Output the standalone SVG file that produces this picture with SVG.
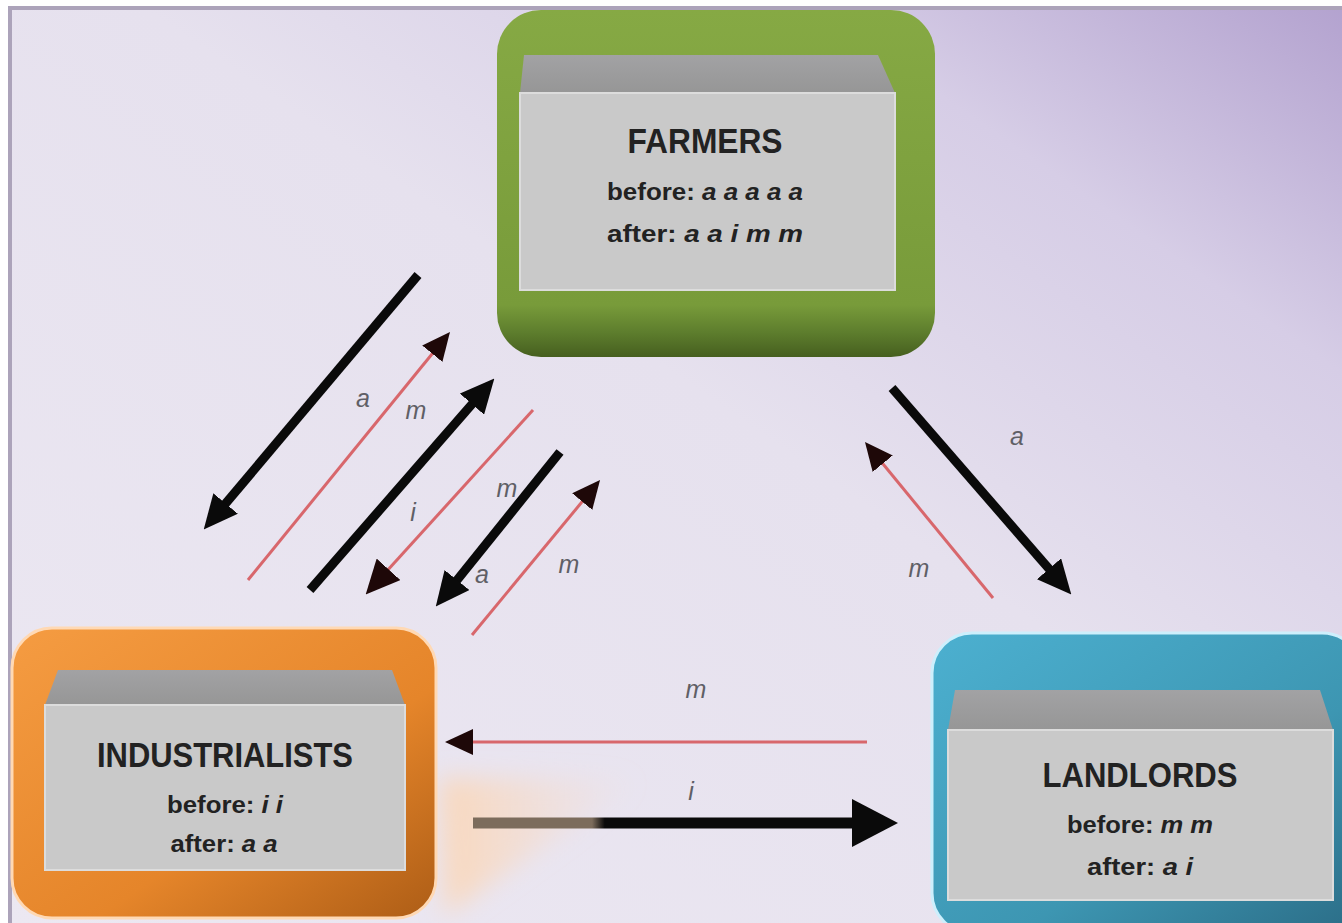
<svg xmlns="http://www.w3.org/2000/svg" width="1342" height="923" viewBox="0 0 1342 923">
<defs>
  <linearGradient id="bg" x1="0" y1="1" x2="1" y2="0">
    <stop offset="0" stop-color="#ece8f2"/>
    <stop offset="0.55" stop-color="#e6e1ee"/>
    <stop offset="0.8" stop-color="#d6cde6"/>
    <stop offset="1" stop-color="#b3a2cf"/>
  </linearGradient>
  <linearGradient id="glow" x1="0" y1="0" x2="1" y2="0">
    <stop offset="0" stop-color="#fbd6b6" stop-opacity="0.9"/>
    <stop offset="1" stop-color="#f6dccb" stop-opacity="0"/>
  </linearGradient>
  <filter id="soft" x="-20%" y="-20%" width="140%" height="140%">
    <feGaussianBlur stdDeviation="12"/>
  </filter>
  <linearGradient id="green" x1="0" y1="0" x2="0" y2="1">
    <stop offset="0" stop-color="#86a944"/>
    <stop offset="0.85" stop-color="#789b3a"/>
    <stop offset="0.93" stop-color="#5d7d2d"/>
    <stop offset="1" stop-color="#465f1f"/>
  </linearGradient>
  <linearGradient id="orange" x1="0" y1="0" x2="1" y2="1">
    <stop offset="0" stop-color="#f59c42"/>
    <stop offset="0.6" stop-color="#e5852a"/>
    <stop offset="1" stop-color="#ad5d16"/>
  </linearGradient>
  <linearGradient id="teal" x1="0" y1="0" x2="1" y2="1">
    <stop offset="0" stop-color="#4cb0d0"/>
    <stop offset="0.6" stop-color="#3d96b2"/>
    <stop offset="1" stop-color="#2b6c86"/>
  </linearGradient>
  <linearGradient id="band" x1="0" y1="0" x2="0" y2="1">
    <stop offset="0" stop-color="#a2a2a4"/>
    <stop offset="1" stop-color="#969696"/>
  </linearGradient>
  <linearGradient id="iline" gradientUnits="userSpaceOnUse" x1="473" y1="0" x2="898" y2="0">
    <stop offset="0" stop-color="#7c6c5c"/>
    <stop offset="0.28" stop-color="#7c6c5c"/>
    <stop offset="0.31" stop-color="#0a0a0a"/>
    <stop offset="1" stop-color="#0a0a0a"/>
  </linearGradient>
  <marker id="hb" markerUnits="userSpaceOnUse" markerWidth="34" markerHeight="32" refX="14" refY="16" orient="auto">
    <path d="M0,0 L34,16 L0,32 z" fill="#0a0a0a"/>
  </marker>
  <marker id="hbig" markerUnits="userSpaceOnUse" markerWidth="46" markerHeight="48" refX="21" refY="24" orient="auto">
    <path d="M0,0 L46,24 L0,48 z" fill="#0a0a0a"/>
  </marker>
  <marker id="hr" markerUnits="userSpaceOnUse" markerWidth="28" markerHeight="26" refX="16" refY="13" orient="auto">
    <path d="M0,0 L28,13 L0,26 z" fill="#1e0808"/>
  </marker>
  <marker id="hr2" markerUnits="userSpaceOnUse" markerWidth="34" markerHeight="32" refX="20" refY="16" orient="auto">
    <path d="M0,0 L34,16 L0,32 z" fill="#1e0808"/>
  </marker>
  <style>
    .blk { stroke: #0a0a0a; stroke-width: 9; fill: none; }
    .red { stroke: #d8676c; stroke-width: 3; fill: none; }
    .lbl { font-family: "Liberation Sans", Arial, sans-serif; font-style: italic; font-size: 25px; fill: #5f5f66; text-anchor: middle; }
    .title { font-family: "Liberation Sans", Arial, sans-serif; font-weight: bold; font-size: 35px; fill: #222; text-anchor: middle; }
    .sub { font-family: "Liberation Sans", Arial, sans-serif; font-weight: bold; font-size: 24px; fill: #222; text-anchor: middle; }
    .it { font-style: italic; }
    .panel { fill: #c9c9c9; stroke: #dcdcdc; stroke-width: 2; }
    .band { fill: url(#band); }
  </style>
</defs>

<rect x="0" y="0" width="1342" height="923" fill="#ffffff"/>
<rect x="10" y="8" width="1340" height="925" fill="url(#bg)" stroke="#aca3ba" stroke-width="4"/>
<polygon points="440,778 640,780 445,915" fill="url(#glow)" filter="url(#soft)"/>

<g id="farmers">
  <rect x="497" y="10" width="438" height="347" rx="44" fill="url(#green)"/>
  <polygon points="524,55 878,55 895,93 520,93" class="band"/>
  <rect x="520" y="93" width="375" height="197" class="panel"/>
  <text x="705" y="153" class="title" textLength="155" lengthAdjust="spacingAndGlyphs">FARMERS</text>
  <text x="705" y="200" class="sub" textLength="196" lengthAdjust="spacingAndGlyphs">before: <tspan class="it">a a a a a</tspan></text>
  <text x="705" y="242" class="sub" textLength="196" lengthAdjust="spacingAndGlyphs">after: <tspan class="it">a a i m m</tspan></text>
</g>

<g id="industrialists">
  <rect x="12" y="628" width="424" height="290" rx="40" fill="url(#orange)" stroke="#ffd9b4" stroke-width="3"/>
  <polygon points="58,670 392,670 405,705 45,705" class="band"/>
  <rect x="45" y="705" width="360" height="165" class="panel"/>
  <text x="225" y="767" class="title" textLength="256" lengthAdjust="spacingAndGlyphs">INDUSTRIALISTS</text>
  <text x="225" y="813" class="sub" textLength="116" lengthAdjust="spacingAndGlyphs">before: <tspan class="it">i i</tspan></text>
  <text x="224" y="852" class="sub" textLength="107" lengthAdjust="spacingAndGlyphs">after: <tspan class="it">a a</tspan></text>
</g>

<g id="landlords">
  <rect x="932" y="633" width="430" height="300" rx="40" fill="url(#teal)" stroke="#cdeffc" stroke-width="3"/>
  <polygon points="955,690 1320,690 1333,730 948,730" class="band"/>
  <rect x="948" y="730" width="385" height="170" class="panel"/>
  <text x="1140" y="787" class="title" textLength="195" lengthAdjust="spacingAndGlyphs">LANDLORDS</text>
  <text x="1140" y="833" class="sub" textLength="146" lengthAdjust="spacingAndGlyphs">before: <tspan class="it">m m</tspan></text>
  <text x="1140" y="875" class="sub" textLength="106" lengthAdjust="spacingAndGlyphs">after: <tspan class="it">a i</tspan></text>
</g>

<g id="connectors">
  <line x1="418" y1="275" x2="216.6" y2="514.2" class="blk" marker-end="url(#hb)"/>
  <line x1="248" y1="580" x2="442.4" y2="341.3" class="red" marker-end="url(#hr)"/>
  <line x1="310" y1="590" x2="481.2" y2="393.6" class="blk" marker-end="url(#hb)"/>
  <line x1="533" y1="410" x2="375.1" y2="584.1" class="red" marker-end="url(#hr2)"/>
  <line x1="560" y1="452" x2="448.3" y2="591.0" class="blk" marker-end="url(#hb)"/>
  <line x1="472" y1="635" x2="592.4" y2="489.3" class="red" marker-end="url(#hr)"/>
  <line x1="892" y1="388" x2="1058.2" y2="579.4" class="blk" stroke-width="8" marker-end="url(#hb)"/>
  <line x1="993" y1="598" x2="872.6" y2="451.3" class="red" marker-end="url(#hr)"/>
  <line x1="867" y1="742" x2="457" y2="742" class="red" marker-end="url(#hr)"/>
  <line x1="473" y1="823" x2="873" y2="823" stroke="url(#iline)" stroke-width="11" marker-end="url(#hbig)"/>

  <text x="363" y="407" class="lbl">a</text>
  <text x="416" y="419" class="lbl">m</text>
  <text x="413" y="521" class="lbl">i</text>
  <text x="507" y="497" class="lbl">m</text>
  <text x="482" y="583" class="lbl">a</text>
  <text x="569" y="573" class="lbl">m</text>
  <text x="1017" y="445" class="lbl">a</text>
  <text x="919" y="577" class="lbl">m</text>
  <text x="696" y="698" class="lbl">m</text>
  <text x="691" y="800" class="lbl">i</text>
</g>
</svg>
